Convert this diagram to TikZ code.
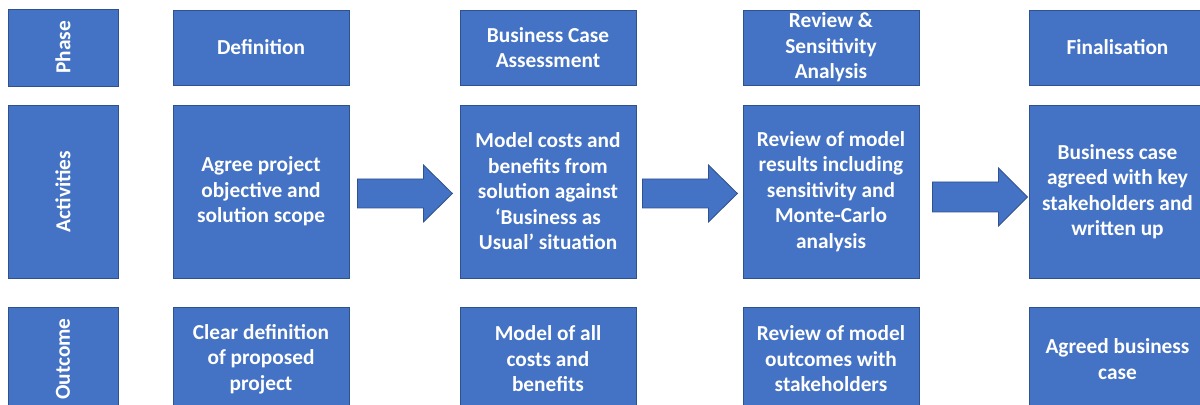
\documentclass[tikz,border=0pt]{standalone}
\usepackage{fontspec}
\setmainfont{Carlito}
\usetikzlibrary{calc}
\definecolor{boxblue}{HTML}{4472C4}
\definecolor{edgeblue}{HTML}{2F528F}
\tikzstyle{cell} = [rectangle, minimum width=105.6pt, inner sep=0pt, text centered, align=center, draw=edgeblue, line width=0.5pt, fill=boxblue, text=white, font=\fontsize{12.8}{15.3}\selectfont\bfseries]
\tikzstyle{rowhead} = [cell, rotate=90, minimum height=66pt]
\tikzstyle{phaserow} = [minimum height=45pt]
\tikzstyle{actrow} = [minimum height=103.8pt]
\tikzstyle{outrow} = [minimum height=62.4pt]
\tikzstyle{blockarrow} = [fill=boxblue, draw=edgeblue, line width=0.5pt]

\begin{document}
\begin{tikzpicture}[x=0.6pt, y=-0.6pt]
\clip (0,0) rectangle (1200,405);
% row headings
\node (hphase) [rowhead, minimum width=46.2pt] at (63,47.5) {Phase};
\node (hact) [rowhead, minimum width=103.8pt] at (63,191.5) {Activities};
\node (hout) [rowhead, minimum width=62.4pt] at (63,359) {Outcome};

% phases
\node (ph1) [cell, phaserow] at (261,47.5) {Definition};
\node (ph2) [cell, phaserow] at (548,47.5) {Business Case\\Assessment};
\node (ph3) [cell, phaserow] at (831,47.5) {Review \&\\Sensitivity\\Analysis};
\node (ph4) [cell, phaserow] at (1117.5,47.5) {Finalisation};

% activities
\node (act1) [cell, actrow] at (261,191.5) {Agree project\\objective and\\solution scope};
\node (act2) [cell, actrow] at (548,191.5) {Model costs and\\benefits from\\solution against\\‘Business as\\Usual’ situation};
\node (act3) [cell, actrow] at (831,191.5) {Review of model\\results including\\sensitivity and\\Monte-Carlo\\analysis};
\node (act4) [cell, actrow] at (1117.5,191.5) {Business case\\agreed with key\\stakeholders and\\written up};

% outcomes
\node (out1) [cell, outrow] at (261,359) {Clear definition\\of proposed\\project};
\node (out2) [cell, outrow] at (548,359) {Model of all\\costs and\\benefits};
\node (out3) [cell, outrow] at (831,359) {Review of model\\outcomes with\\stakeholders};
\node (out4) [cell, outrow] at (1117.5,359) {Agreed business\\case};

% block arrows between activities
\draw [blockarrow] ($(act1.east)+(8,2)$) ++(0,-14.5) -- ++(66,0) -- ++(0,-14) -- ++(29,28.5) -- ++(-29,28.5) -- ++(0,-14) -- ++(-66,0) -- cycle;
\draw [blockarrow] ($(act2.east)+(6,2)$) ++(0,-14.5) -- ++(66,0) -- ++(0,-14) -- ++(29,28.5) -- ++(-29,28.5) -- ++(0,-14) -- ++(-66,0) -- cycle;
\draw [blockarrow] ($(act3.east)+(13,5.5)$) ++(0,-15) -- ++(66,0) -- ++(0,-14) -- ++(29,29) -- ++(-29,29) -- ++(0,-14) -- ++(-66,0) -- cycle;
\end{tikzpicture}
\end{document}
